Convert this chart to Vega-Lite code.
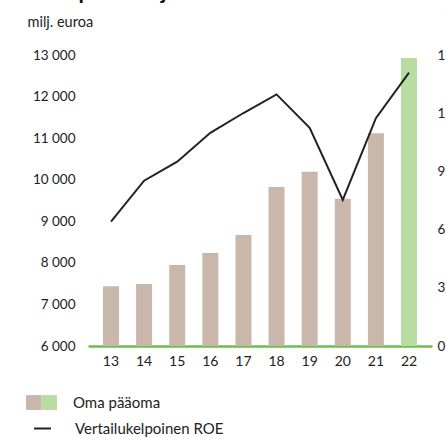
{
  "$schema": "https://vega.github.io/schema/vega-lite/v6.json",
  "autosize": {"type": "none"},
  "width": 344,
  "height": 291,
  "padding": {"left": 88, "top": 55, "right": 14, "bottom": 92},
  "background": "white",
  "config": {
    "font": "Lato",
    "view": {"stroke": null},
    "locale": {"number": {"decimal": ",", "thousands": "\u00a0", "grouping": [3], "currency": ["", " €"]}},
    "axis": {"labelColor": "#222", "labelFont": "Lato", "labelFontSize": 13.5, "ticks": false, "grid": false, "titleFont": "Lato", "titleFontWeight": "normal", "titleColor": "#222"},
    "legend": {"labelFont": "Lato", "labelFontSize": 15, "labelColor": "#222", "padding": 0}
  },
  "title": {
    "text": "Oma pääoma ja ROE",
    "font": "Lato",
    "fontSize": 22,
    "fontWeight": "bold",
    "color": "#111",
    "anchor": "start",
    "frame": "bounds",
    "offset": 7
  },
  "data": {
    "values": [
      {"vuosi": "13", "oma_paaoma": 7440, "roe": 6.41},
      {"vuosi": "14", "oma_paaoma": 7490, "roe": 8.52},
      {"vuosi": "15", "oma_paaoma": 7950, "roe": 9.50},
      {"vuosi": "16", "oma_paaoma": 8240, "roe": 10.99},
      {"vuosi": "17", "oma_paaoma": 8670, "roe": 12.01},
      {"vuosi": "18", "oma_paaoma": 9825, "roe": 12.97},
      {"vuosi": "19", "oma_paaoma": 10190, "roe": 11.25},
      {"vuosi": "20", "oma_paaoma": 9540, "roe": 7.53},
      {"vuosi": "21", "oma_paaoma": 11120, "roe": 11.74},
      {"vuosi": "22", "oma_paaoma": 12930, "roe": 14.09}
    ]
  },
  "encoding": {
    "x": {
      "field": "vuosi",
      "type": "ordinal",
      "scale": {"paddingInner": 0.517, "paddingOuter": 0.453},
      "axis": {"title": null, "labelAngle": 0, "labelPadding": 8, "labelFontSize": 14, "domain": true, "domainColor": "#6cbf4b", "domainWidth": 2.5}
    }
  },
  "layer": [
    {
      "mark": {"type": "bar"},
      "encoding": {
        "y": {
          "field": "oma_paaoma",
          "type": "quantitative",
          "scale": {"domain": [6000, 13000], "zero": false, "nice": false},
          "axis": {
            "orient": "left",
            "values": [6000, 7000, 8000, 9000, 10000, 11000, 12000, 13000],
            "format": ",d",
            "domain": false,
            "labelPadding": 13,
            "title": "milj. euroa",
            "titleAngle": 0,
            "titleAlign": "left",
            "titleBaseline": "middle",
            "titleFontSize": 14.5,
            "titleX": -61,
            "titleY": -33
          }
        },
        "y2": {"datum": 6000},
        "fill": {
          "datum": "Oma pääoma",
          "scale": {"domain": ["Oma pääoma"], "range": ["#c9b7ab"]},
          "condition": {"test": "datum.vuosi === '22'", "value": "#b9dca1"},
          "legend": {
            "orient": "none",
            "legendX": -62,
            "legendY": 332,
            "title": null,
            "symbolType": "M-1,-0.48H0V0.48H-1Z",
            "symbolSize": 961,
            "symbolStrokeWidth": 0,
            "labelOffset": 16
          }
        },
        "opacity": {
          "datum": "Oma pääoma",
          "scale": {"domain": ["Oma pääoma"], "range": [1]},
          "legend": {
            "orient": "none",
            "legendX": -62,
            "legendY": 332,
            "title": null,
            "symbolType": "M0,-0.48H1V0.48H0Z",
            "symbolSize": 961,
            "symbolStrokeWidth": 0,
            "symbolFillColor": "#b9dca1",
            "symbolOpacity": 1,
            "labelExpr": "''",
            "labelOffset": 16,
            "encode": {"symbols": {"update": {"fill": {"value": "#b9dca1"}, "opacity": {"value": 1}}}}
          }
        }
      }
    },
    {
      "mark": {"type": "line", "strokeWidth": 2},
      "encoding": {
        "y": {
          "field": "roe",
          "type": "quantitative",
          "scale": {"domain": [0, 15], "nice": false},
          "axis": {
            "orient": "right",
            "values": [0, 3, 6, 9, 12, 15],
            "domain": false,
            "labelPadding": 5,
            "title": "%",
            "titleAngle": 0,
            "titleAlign": "left",
            "titleBaseline": "middle",
            "titleFontSize": 12.5,
            "titleX": 13,
            "titleY": -38
          }
        },
        "stroke": {
          "datum": "Vertailukelpoinen ROE",
          "scale": {"domain": ["Vertailukelpoinen ROE"], "range": ["#222222"]},
          "legend": {
            "orient": "none",
            "legendX": -55,
            "legendY": 364,
            "title": null,
            "symbolType": "stroke",
            "symbolSize": 289,
            "symbolStrokeWidth": 2,
            "labelOffset": 23
          }
        }
      }
    }
  ],
  "resolve": {"scale": {"y": "independent", "fill": "independent", "stroke": "independent"}}
}
